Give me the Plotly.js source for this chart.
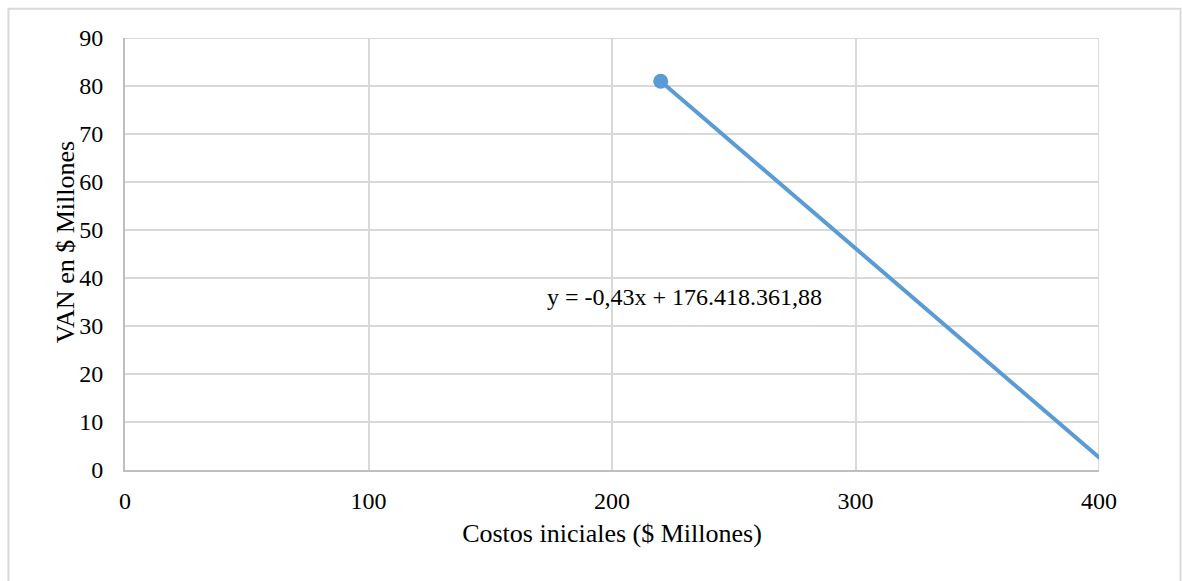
<!DOCTYPE html>
<html>
<head>
<meta charset="utf-8">
<script src="https://cdn.plot.ly/plotly-3.0.1.min.js"></script>
<style>
  html, body { margin: 0; padding: 0; background: #ffffff; }
  #chart { width: 1182px; height: 581px; }
</style>
</head>
<body>
<div id="chart"></div>
<script>
// Costos iniciales vs. VAN (millones de pesos)
const costos = [220, 401.5];
const van = [81, 2];
const xTicks = [0, 100, 200, 300, 400];
const yTicks = [0, 10, 20, 30, 40, 50, 60, 70, 80, 90];
const ecuacion = 'y = -0,43x + 176.418.361,88';
const tituloX = 'Costos iniciales ($ Millones)';
const tituloY = 'VAN en $ Millones';

const azul = '#5B9BD5';
const gris = '#d9d9d9';
const fuente = 'Liberation Serif, Times New Roman, serif';

const trazas = [
  {
    x: costos,
    y: van,
    type: 'scatter',
    mode: 'lines',
    line: { color: azul, width: 4 },
    cliponaxis: false,
    hoverinfo: 'skip'
  },
  {
    x: [costos[0]],
    y: [van[0]],
    type: 'scatter',
    mode: 'markers',
    marker: { color: azul, size: 15 },
    cliponaxis: false,
    hoverinfo: 'skip'
  }
];

const layout = {
  width: 1182,
  height: 581,
  margin: { l: 125, r: 83, t: 38, b: 111 },
  paper_bgcolor: '#ffffff',
  plot_bgcolor: '#ffffff',
  showlegend: false,
  font: { family: fuente, size: 24, color: '#000000' },
  xaxis: {
    range: [0, 400],
    tickvals: xTicks,
    ticktext: xTicks.map(String),
    showgrid: true,
    gridcolor: gris,
    gridwidth: 2,
    zeroline: false,
    showline: true,
    linecolor: '#bfbfbf',
    linewidth: 2,
    ticks: '',
    ticklabelstandoff: 8,
    tickfont: { family: fuente, size: 24 },
    title: { text: tituloX, font: { family: fuente, size: 26 }, standoff: 11 },
    automargin: false,
    fixedrange: true
  },
  yaxis: {
    range: [0, 90],
    tickvals: yTicks,
    ticktext: yTicks.map(String),
    showgrid: true,
    gridcolor: gris,
    gridwidth: 2,
    zeroline: false,
    showline: true,
    linecolor: '#bfbfbf',
    linewidth: 2,
    ticks: '',
    ticklabelstandoff: 15,
    tickfont: { family: fuente, size: 24 },
    automargin: false,
    fixedrange: true
  },
  annotations: [
    {
      x: 172.5,
      y: 36,
      xref: 'x',
      yref: 'y',
      text: ecuacion,
      showarrow: false,
      xanchor: 'left',
      yanchor: 'middle',
      font: { family: fuente, size: 24, color: '#000000' }
    },
    // título del eje vertical
    {
      x: -0.0616,
      y: 0.527,
      xref: 'paper',
      yref: 'paper',
      text: tituloY,
      textangle: -90,
      showarrow: false,
      xanchor: 'center',
      yanchor: 'middle',
      font: { family: fuente, size: 26, color: '#000000' }
    }
  ],
  shapes: [
    // marco exterior del gráfico
    {
      type: 'rect',
      xref: 'paper',
      yref: 'paper',
      x0: -0.1196,
      x1: 1.0837,
      y0: -0.3,
      y1: 1.0676,
      line: { color: gris, width: 2 },
      fillcolor: 'rgba(0,0,0,0)',
      layer: 'below'
    },
    // líneas de cuadrícula en los extremos superior y derecho
    {
      type: 'line', xref: 'paper', yref: 'y',
      x0: 0, x1: 1, y0: 90, y1: 90,
      line: { color: gris, width: 2 }, layer: 'below'
    },
    {
      type: 'line', xref: 'x', yref: 'paper',
      x0: 400, x1: 400, y0: 0, y1: 1,
      line: { color: gris, width: 2 }, layer: 'below'
    }
  ]
};

Plotly.newPlot('chart', trazas, layout, { staticPlot: true, displayModeBar: false });
</script>
</body>
</html>
